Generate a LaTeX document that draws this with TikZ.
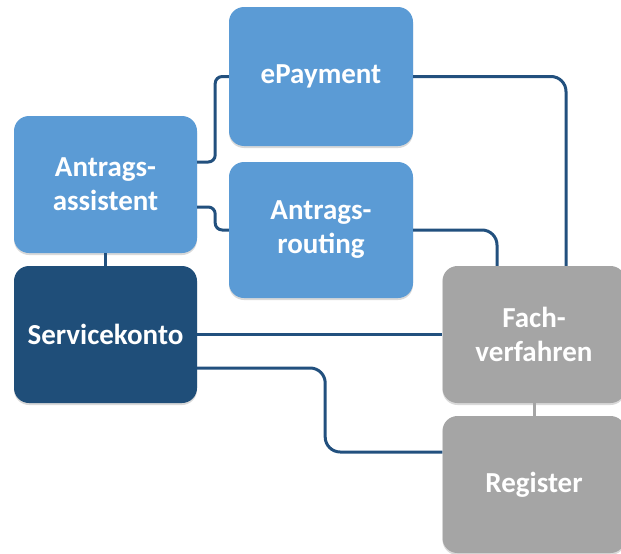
\documentclass[tikz,border=0pt]{standalone}
\usepackage{fontspec}
\setmainfont{Carlito}
\usetikzlibrary{shadows,calc}
\definecolor{lightblue}{HTML}{5B9BD5}
\definecolor{darkblue}{HTML}{1F4E79}
\definecolor{boxgray}{HTML}{A5A5A5}
\definecolor{linkblue}{HTML}{22507E}
\tikzset{
  box/.style={rectangle, rounded corners=15pt, minimum width=183pt, minimum height=137pt,
    inner sep=0pt, text=white, align=center,
    font=\fontsize{29}{34}\selectfont\bfseries,
    drop shadow={shadow xshift=0pt, shadow yshift=-2pt, opacity=0.25, fill=black!60}},
  bluebox/.style={box, fill=lightblue},
  darkbox/.style={box, fill=darkblue},
  graybox/.style={box, fill=boxgray},
  link/.style={draw=linkblue, line width=3pt, rounded corners=15pt},
  shortlink/.style={draw=linkblue, line width=3pt, rounded corners=7pt},
}
\begin{document}
\begin{tikzpicture}[x=1pt,y=-1pt]
\useasboundingbox (0,0) rectangle (621,554);
\node[bluebox] (asst) at (105.5,184.5) {Antrags-\\assistent};
\node[bluebox, minimum width=184pt, minimum height=139pt] (epay) at (321,76.5) {ePayment};
\node[bluebox, minimum width=184pt, minimum height=136pt] (rout) at (321,230) {Antrags-\\routing};
\node[darkbox] (serv) at (105.5,334.5) {Servicekonto};
\node[graybox] (fach) at (534,334.5) {Fach-\\verfahren};
\node[graybox] (reg) at (534,484.5) {Register};
% links
\draw[shortlink] ([yshift=22.5pt]asst.east) -- ++(18,0) |- (epay.west);
\draw[shortlink] ([yshift=-22.5pt]asst.east) -- ++(18,0) |- (rout.west);
\draw[link] (asst.south) -- (serv.north);
\draw[link] (epay.east) -| ([xshift=32pt]fach.north);
\draw[link] (rout.east) -| ([xshift=-37pt]fach.north);
\draw[link] ([yshift=0.5pt]serv.east) -- ([yshift=0.5pt]fach.west);
\draw[link] ([yshift=-33.5pt]serv.east) -- ++(128,0) |- ([yshift=32.5pt]reg.west);
\draw[draw=boxgray, line width=3pt] (fach.south) -- (reg.north);
\end{tikzpicture}
\end{document}
